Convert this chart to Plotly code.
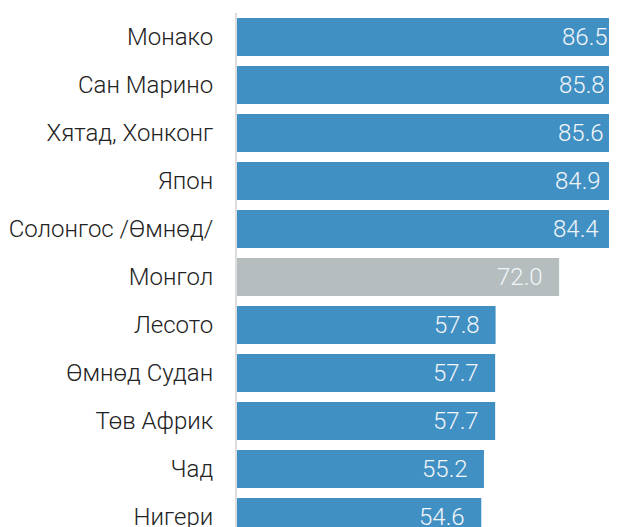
import plotly.graph_objects as go

countries = ["Монако", "Сан Марино", "Хятад, Хонконг", "Япон", "Солонгос /Өмнөд/",
             "Монгол", "Лесото", "Өмнөд Судан", "Төв Африк", "Чад", "Нигери"]
values = [86.5, 85.8, 85.6, 84.9, 84.4, 72.0, 57.8, 57.7, 57.7, 55.2, 54.6]
highlight = "Монгол"

BLUE = "#4190c3"
GRAY = "#b5bdbe"
colors = [GRAY if c == highlight else BLUE for c in countries]

FONT = "Roboto Light, Roboto"

fig = go.Figure()
fig.add_trace(go.Bar(
    x=values, y=countries, orientation="h",
    marker=dict(color=colors, line=dict(width=0)),
    width=0.79, hoverinfo="skip",
))

for c, v in zip(countries, values):
    fig.add_annotation(
        x=v, y=c, text=f"{v:.1f}", showarrow=False,
        xanchor="right", yanchor="middle", xshift=-14,
        font=dict(family=FONT, size=24, color="#f2f6fa", weight=300),
    )

fig.update_layout(
    width=622, height=540,
    margin=dict(l=229, r=6, t=5, b=7),
    paper_bgcolor="white", plot_bgcolor="white",
    showlegend=False,
    font=dict(family=FONT, size=24, color="#222222", weight=300),
    xaxis=dict(range=[0, 86.5], visible=False, fixedrange=True, automargin=False),
    yaxis=dict(autorange="reversed", showline=True, linecolor="#dddddd", linewidth=2,
               ticks="", ticklabelstandoff=17, showgrid=False, automargin=False,
               tickfont=dict(family=FONT, size=24, color="#222222", weight=300)),
)

fig.write_html("out.html", config={"displayModeBar": False})
